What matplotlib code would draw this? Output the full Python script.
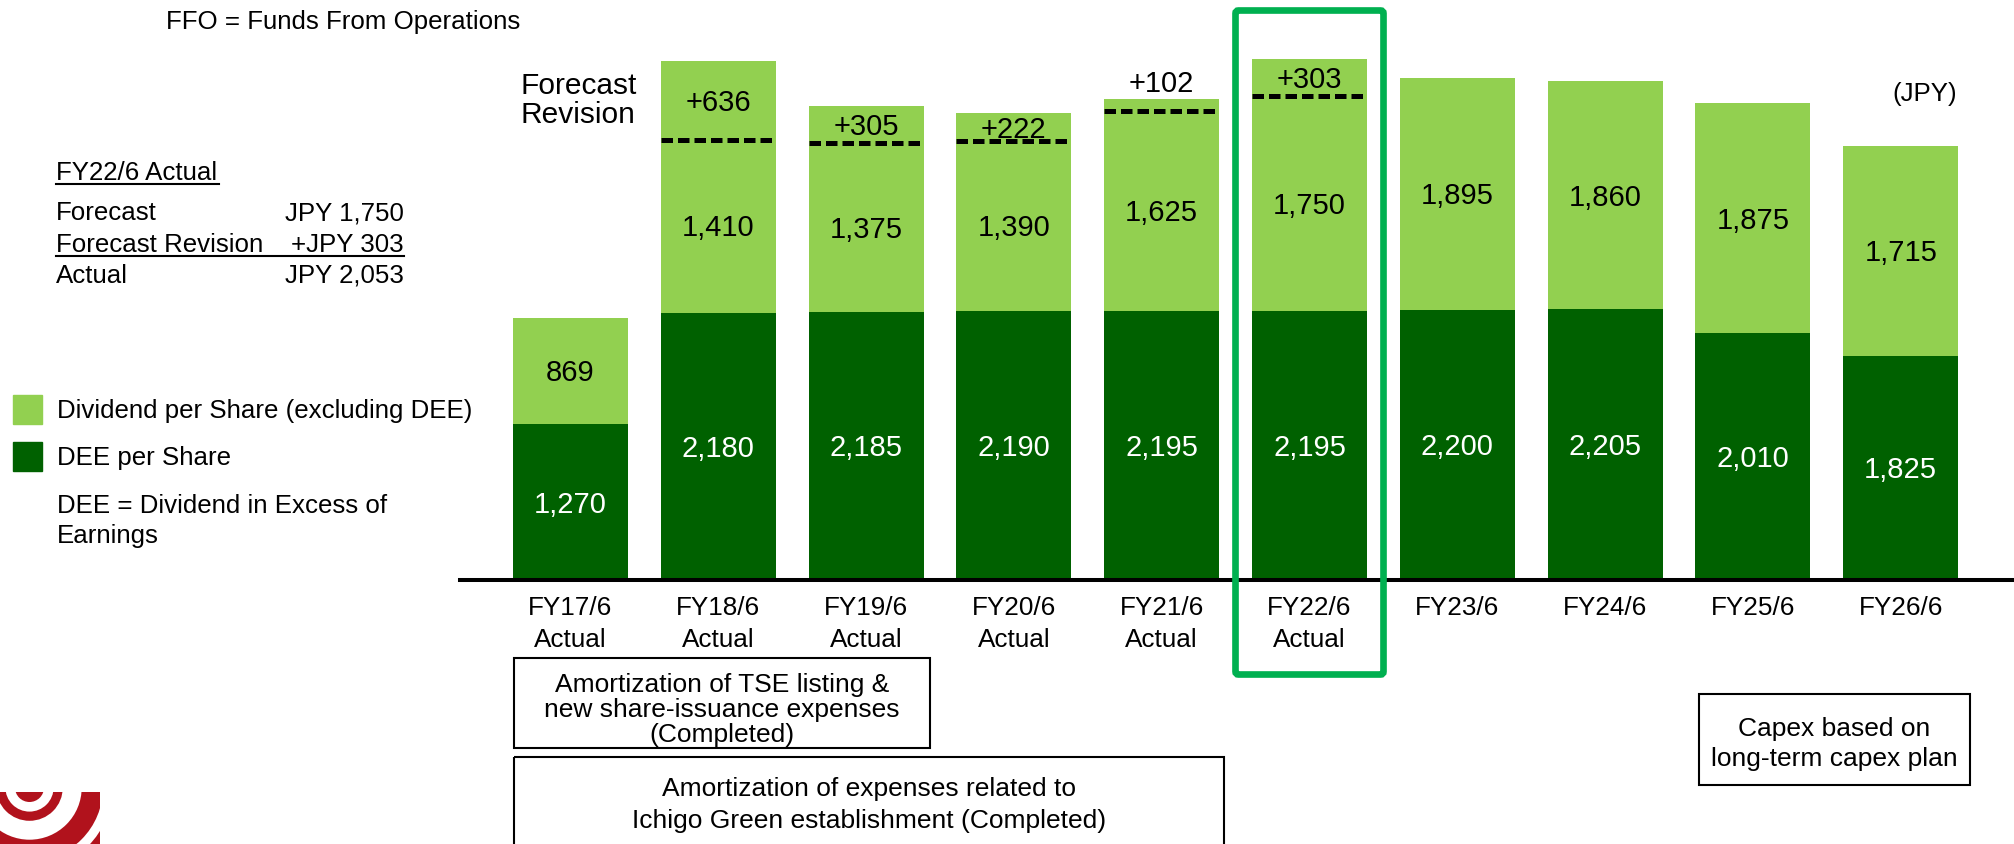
import matplotlib
matplotlib.use("Agg")
import matplotlib.pyplot as plt
import matplotlib.patches as patches
from matplotlib.transforms import Affine2D
import numpy as np

# ---------------- data ----------------
periods = ["FY17/6", "FY18/6", "FY19/6", "FY20/6", "FY21/6", "FY22/6",
           "FY23/6", "FY24/6", "FY25/6", "FY26/6"]
period_sub = ["Actual", "Actual", "Actual", "Actual", "Actual", "Actual",
              "", "", "", ""]
dee_per_share = [1270, 2180, 2185, 2190, 2195, 2195, 2200, 2205, 2010, 1825]
dividend_ex_dee = [869, 1410, 1375, 1390, 1625, 1750, 1895, 1860, 1875, 1715]
forecast_revision = [0, 636, 305, 222, 102, 303, 0, 0, 0, 0]
highlight_index = 5

# ---------------- style ----------------
plt.rcParams['font.family'] = ['Liberation Sans', 'DejaVu Sans']
LIGHT = "#92D050"
DARK = "#006100"
HILITE = "#00B050"
RED = "#B1121C"

W, H = 2015, 844
fig = plt.figure(figsize=(W / 100, H / 100), dpi=100)
PX = Affine2D().scale(1 / W, -1 / H).translate(0, 1) + fig.transFigure

# axes: baseline at y=580px, spans x 460..2015
ax_left, ax_right, ax_base = 460, 2015, 580
ax = fig.add_axes([ax_left / W, (H - ax_base) / H, (ax_right - ax_left) / W, ax_base / H])
px_per_unit = 0.1227
ax.set_ylim(0, ax_base / px_per_unit)
c0, step = 570.5, 147.8
ax.set_xlim((ax_left - c0) / step, (ax_right - c0) / step)
for s in ["top", "right", "left"]:
    ax.spines[s].set_visible(False)
ax.spines["bottom"].set_linewidth(2.9)
ax.set_xticks([])
ax.set_yticks([])
ax.patch.set_alpha(0)

x = np.arange(len(periods))
dee = np.array(dee_per_share)
div = np.array(dividend_ex_dee)
rev = np.array(forecast_revision)
bw = 0.778

ax.bar(x, dee, width=bw, color=DARK, zorder=2)
ax.bar(x, div, bottom=dee, width=bw, color=LIGHT, zorder=2)
ax.bar(x, rev, bottom=dee + div, width=bw, color=LIGHT, zorder=2)

VAL_FS = 21
half_cap = 0.716 * VAL_FS / 2
for i in x:
    ax.annotate(f"{dee[i]:,}", (i, dee[i] / 2), xytext=(0, -half_cap),
                textcoords="offset points", ha="center", va="baseline",
                fontsize=VAL_FS, color="white", zorder=4)
    ax.annotate(f"{div[i]:,}", (i, dee[i] + div[i] / 2), xytext=(0, -half_cap),
                textcoords="offset points", ha="center", va="baseline",
                fontsize=VAL_FS, color="black", zorder=4)
    if rev[i] > 0:
        top = dee[i] + div[i]
        ax.plot([i - bw / 2, i + bw / 2], [top, top], color="black", lw=3.6,
                ls=(0, (2.3, 1.0)), solid_capstyle="butt", dash_capstyle="butt", zorder=3)
        if rev[i] * px_per_unit < 22:
            ax.annotate(f"+{rev[i]}", (i, top + rev[i]), xytext=(0, 5),
                        textcoords="offset points", ha="center", va="baseline",
                        fontsize=VAL_FS, color="black", zorder=4)
        else:
            ax.annotate(f"+{rev[i]}", (i, top + rev[i] / 2), xytext=(0, -half_cap),
                        textcoords="offset points", ha="center", va="baseline",
                        fontsize=VAL_FS, color="black", zorder=4)

# category labels
TICK_FS = 18.8
for i in x:
    ax.annotate(periods[i], (i, 0), xytext=(0, -35 * 0.72), textcoords="offset points",
                ha="center", va="baseline", fontsize=TICK_FS, annotation_clip=False)
    if period_sub[i]:
        ax.annotate(period_sub[i], (i, 0), xytext=(0, -67 * 0.72), textcoords="offset points",
                    ha="center", va="baseline", fontsize=TICK_FS, annotation_clip=False)

# highlight box around FY22/6
hc = c0 + highlight_index * step
hl = patches.FancyBboxPatch((hc - 74, 10.5), 148, 664,
                            boxstyle="round,pad=0,rounding_size=3",
                            transform=PX, fill=False, edgecolor=HILITE, lw=4.8,
                            zorder=5, clip_on=False)
fig.add_artist(hl)

# ---------------- texts ----------------
FS = 18.6
def ftext(px, py, s, **kw):
    kw.setdefault("fontsize", FS)
    kw.setdefault("va", "baseline")
    fig.text(px, py, s, transform=PX, **kw)

ftext(166, 29, "FFO = Funds From Operations")
ftext(521, 94, "Forecast", fontsize=21.5)
ftext(521, 123, "Revision", fontsize=21.5)
ftext(1957, 101, "(JPY)", ha="right")

ftext(56, 180, "FY22/6 Actual")
fig.add_artist(plt.Line2D([56, 219], [183.5, 183.5], transform=PX, color="black", lw=1.5))
ftext(56, 220, "Forecast")
ftext(404, 220, "JPY 1,750", ha="right")
ftext(56, 252, "Forecast Revision")
ftext(404, 252, "+JPY 303", ha="right")
fig.add_artist(plt.Line2D([56, 404], [255.5, 255.5], transform=PX, color="black", lw=1.5))
ftext(56, 283, "Actual")
ftext(404, 283, "JPY 2,053", ha="right")

# legend
fig.add_artist(patches.Rectangle((13.5, 395), 28.5, 29, transform=PX, color=LIGHT))
ftext(57, 418, "Dividend per Share (excluding DEE)")
fig.add_artist(patches.Rectangle((13.5, 442), 28.5, 29, transform=PX, color=DARK))
ftext(57, 465, "DEE per Share")
ftext(57, 513, "DEE = Dividend in Excess of")
ftext(57, 543, "Earnings")

# note boxes
BOX_FS = 19
def note_box(x0, y0, x1, y1, lines, baselines):
    fig.add_artist(patches.Rectangle((x0, y0), x1 - x0, y1 - y0, transform=PX,
                                     fill=False, edgecolor="black", lw=1.5))
    for s, b in zip(lines, baselines):
        ftext((x0 + x1) / 2, b, s, ha="center", fontsize=BOX_FS)

note_box(514, 658, 930, 748,
         ["Amortization of TSE listing &", "new share-issuance expenses", "(Completed)"],
         [692, 717, 742])
note_box(514, 757, 1224, 860,
         ["Amortization of expenses related to", "Ichigo Green establishment (Completed)"],
         [796, 828])
note_box(1699, 694, 1970, 785,
         ["Capex based on", "long-term capex plan"],
         [736, 766])

# logo (partial concentric rings, bottom-left)
clip = patches.Rectangle((0, 792), 100, 52, transform=PX, facecolor="none", edgecolor="none")
fig.add_artist(clip)
radii = [140, 82.8, 73.5, 52.2, 33.3, 24.1, 14.5]
cols = [RED, "white", RED, "white", RED, "white", RED]
for r, c in zip(radii, cols):
    circ = patches.Circle((29.5, 787.5), r, transform=PX, color=c, lw=0)
    circ.set_clip_path(clip)
    fig.add_artist(circ)

fig.savefig("out.png", dpi=100)
